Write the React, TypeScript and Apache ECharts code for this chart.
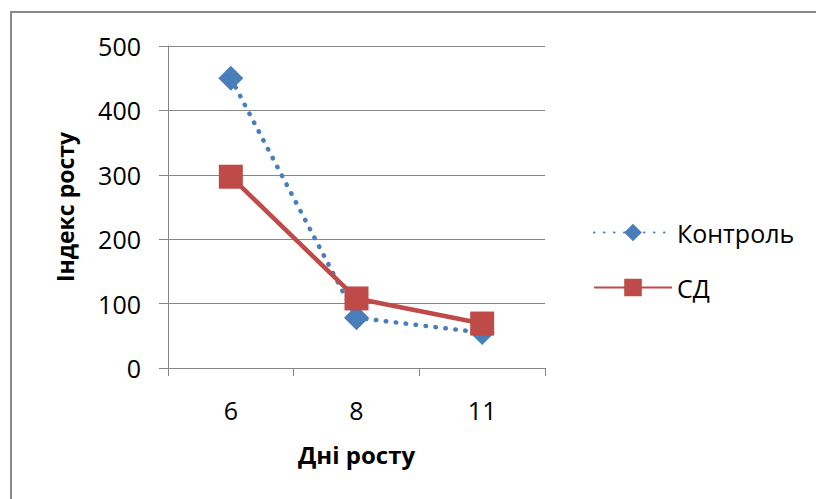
import React, { useEffect, useRef } from "react";
import * as echarts from "echarts";

const categories = ["6", "8", "11"];
const kontrol = [450, 78, 55];
const sd = [297, 108, 69];
const seriesNames = ["Контроль", "СД"];
const yTitle = "Індекс росту";
const xTitle = "Дні росту";

const FONT = "'Open Sans', sans-serif";

export default function App() {
  const ref = useRef<HTMLDivElement>(null);
  useEffect(() => {
    if (!ref.current) return;
    const chart = echarts.init(ref.current, undefined, { renderer: "svg" });
    chart.setOption({
      animation: false,
      backgroundColor: "#ffffff",
      graphic: [
        {
          type: "rect",
          shape: { x: 11, y: 12, width: 900, height: 600 },
          style: { fill: "none", stroke: "#8a8a8a", lineWidth: 2 },
          silent: true,
        },
      ],
      grid: { left: 168, right: 271, top: 46, bottom: 131, containLabel: false },
      legend: {
        orient: "vertical",
        left: 588,
        top: 215,
        itemWidth: 78,
        itemHeight: 22,
        itemGap: 30,
        textStyle: { fontFamily: FONT, fontSize: 25, color: "#000" },
        data: seriesNames,
      },
      xAxis: {
        type: "category",
        data: categories,
        boundaryGap: true,
        name: xTitle,
        nameLocation: "middle",
        nameGap: 74,
        nameTextStyle: { fontFamily: FONT, fontSize: 24, fontWeight: "bold", color: "#000" },
        axisLine: { lineStyle: { color: "#868686", width: 1 } },
        axisTick: { show: true, length: 8, lineStyle: { color: "#868686" } },
        axisLabel: { fontFamily: FONT, fontSize: 25, color: "#000", margin: 29 },
      },
      yAxis: {
        type: "value",
        min: 0,
        max: 500,
        interval: 100,
        name: yTitle,
        nameLocation: "middle",
        nameGap: 92,
        nameRotate: 90,
        nameTextStyle: { fontFamily: FONT, fontSize: 23, fontWeight: "bold", color: "#000" },
        axisLine: { show: true, lineStyle: { color: "#868686", width: 1 } },
        axisTick: { show: true, length: 9, lineStyle: { color: "#868686" } },
        axisLabel: { fontFamily: FONT, fontSize: 25, color: "#000", margin: 27 },
        splitLine: { lineStyle: { color: "#868686", width: 1 } },
      },
      series: [
        {
          name: seriesNames[0],
          type: "line",
          data: kontrol,
          symbol: "diamond",
          symbolSize: 25,
          itemStyle: { color: "#4a7ebb" },
          lineStyle: { color: "#4a7ebb", width: 4.5, type: [0.5, 9.5], cap: "round" },
          z: 2,
        },
        {
          name: seriesNames[1],
          type: "line",
          data: sd,
          symbol: "rect",
          symbolSize: 24,
          itemStyle: { color: "#be4b48" },
          lineStyle: { color: "#be4b48", width: 4.5 },
          z: 3,
        },
      ],
    });
    return () => chart.dispose();
  }, []);
  return (
    <div
      ref={ref}
      style={{ position: "fixed", left: 0, top: 0, width: 816, height: 499 }}
    />
  );
}
